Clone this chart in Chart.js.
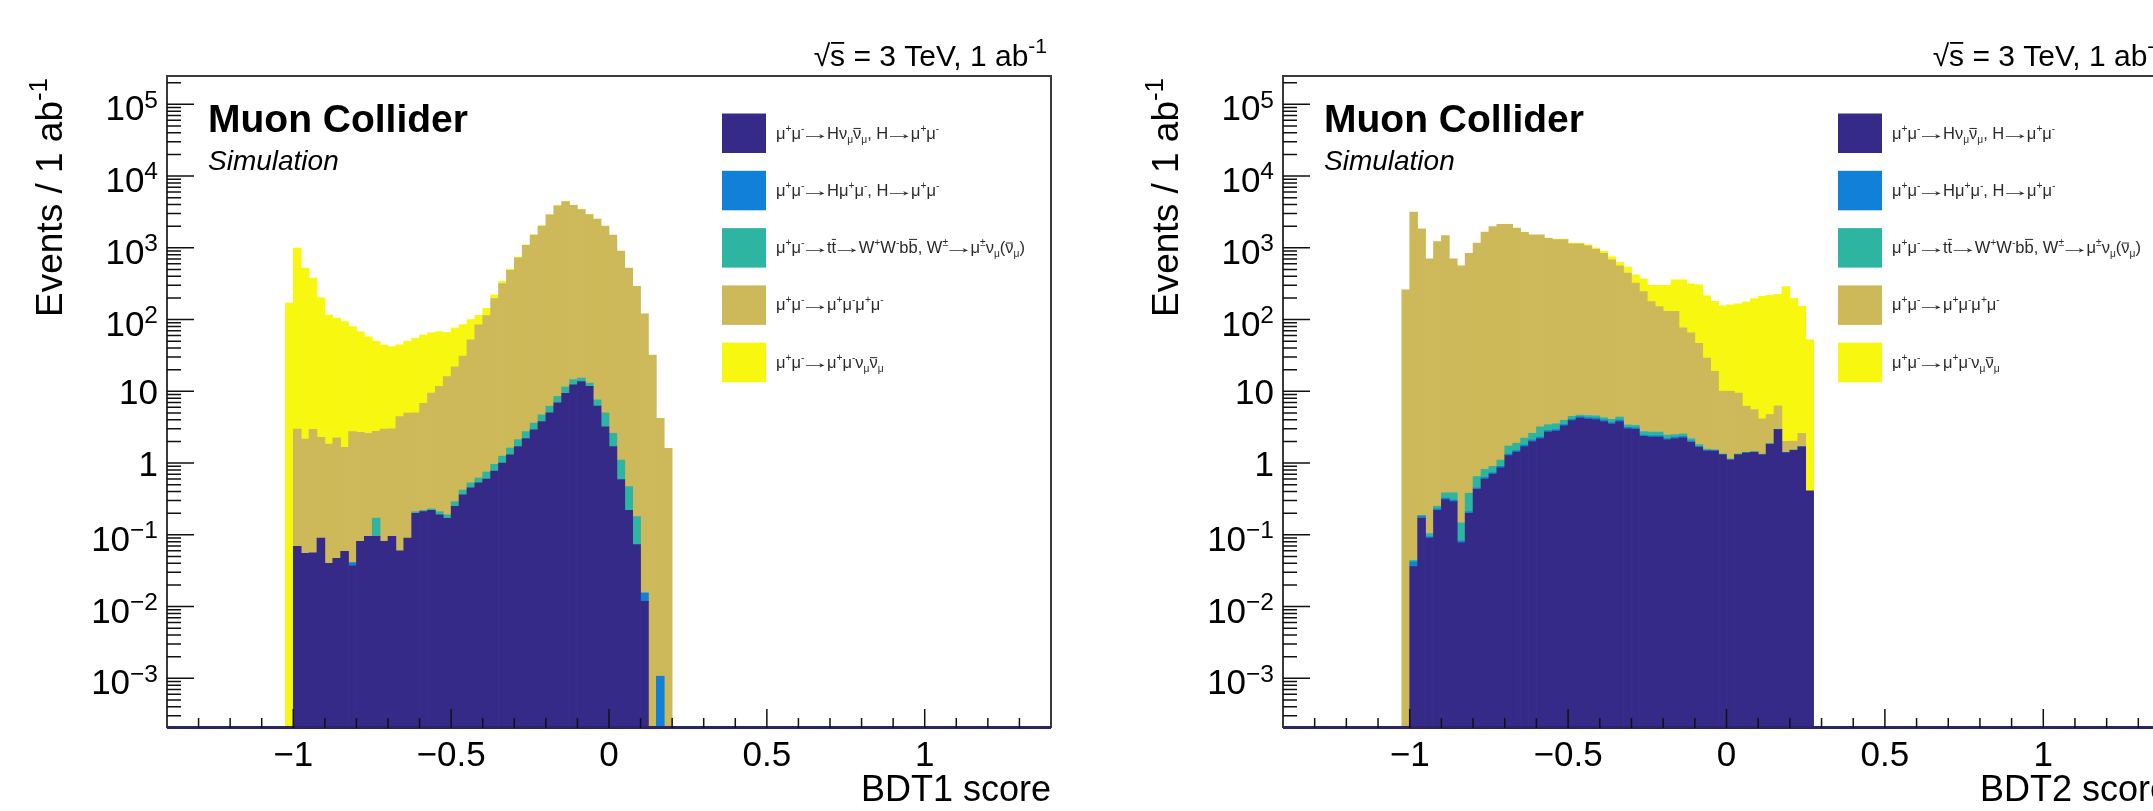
<!DOCTYPE html>
<html>
<head>
<meta charset="utf-8">
<script src="https://cdn.jsdelivr.net/npm/chart.js@4.4.1/dist/chart.umd.min.js"></script>
<style>
  html, body { margin: 0; padding: 0; background: #fff; }
  body { width: 2153px; height: 811px; overflow: hidden; position: relative; }
  .panel { position: absolute; top: 0; width: 1100px; height: 811px; }
</style>
</head>
<body>
<div class="panel" style="left:0"><canvas id="bdt1" width="1100" height="811"></canvas></div>
<div class="panel" style="left:1100px"><canvas id="bdt2" width="1100" height="811"></canvas></div>
<script>
// bin centres of the BDT score histograms (bin width 0.025)
const binCenters = [
  -1.0125, -0.9875, -0.9625, -0.9375, -0.9125, -0.8875, -0.8625, -0.8375, -0.8125, -0.7875,
  -0.7625, -0.7375, -0.7125, -0.6875, -0.6625, -0.6375, -0.6125, -0.5875, -0.5625, -0.5375,
  -0.5125, -0.4875, -0.4625, -0.4375, -0.4125, -0.3875, -0.3625, -0.3375, -0.3125, -0.2875,
  -0.2625, -0.2375, -0.2125, -0.1875, -0.1625, -0.1375, -0.1125, -0.0875, -0.0625, -0.0375,
  -0.0125, 0.0125, 0.0375, 0.0625, 0.0875, 0.1125, 0.1375, 0.1625, 0.1875, 0.2125,
  0.2375, 0.2625
];

// BDT1 score, events / 1 ab^-1 per process
const bdt1Hvv = [
  0, 0.069, 0.055, 0.056, 0.09, 0.04, 0.047, 0.059, 0.037, 0.081,
  0.095, 0.095, 0.081, 0.095, 0.06, 0.09, 0.2, 0.21, 0.22, 0.19,
  0.17, 0.25, 0.36, 0.45, 0.53, 0.6, 0.77, 1.0, 1.3, 1.7,
  2.2, 2.9, 3.8, 5.0, 6.9, 9.4, 12.3, 13.7, 11.7, 6.2,
  3.2, 1.7, 0.59, 0.22, 0.073, 0.0118, 0, 0, 0
];
const bdt1Hmm = [
  0, 0, 0, 0, 0, 0, 0, 0, 0.004, 0,
  0, 0, 0, 0, 0, 0, 0, 0, 0, 0,
  0, 0, 0, 0, 0, 0, 0, 0, 0, 0,
  0, 0, 0, 0, 0, 0, 0, 0, 0, 0,
  0, 0, 0, 0, 0, 0.0037, 0, 0.00107, 0
];
const bdt1Tt = [
  0, 0, 0, 0, 0, 0, 0, 0, 0, 0,
  0, 0.076, 0, 0, 0, 0, 0.01, 0.01, 0.01, 0.02,
  0.02, 0.04, 0.06, 0.08, 0.09, 0.15, 0.19, 0.25, 0.32, 0.42,
  0.55, 0.7, 0.9, 1.2, 1.6, 2.1, 2.3, 1.6, 1.3, 1.4,
  1.8, 0.9, 0.51, 0.25, 0.107, 0, 0, 0, 0
];
const bdt1Mumu4 = [
  0, 2.9, 2.1, 2.9, 2.2, 1.8, 2.2, 1.6, 2.7, 2.6,
  2.5, 2.6, 2.9, 2.9, 4.4, 4.9, 4.8, 6.6, 9.2, 11.5,
  15.8, 21.7, 30.6, 51.5, 84, 113, 195, 317, 482, 721,
  1082, 1502, 2005, 2866, 3837, 4406, 3900, 3400, 2900, 2500,
  2000, 1500, 900, 520, 290, 120, 32, 4.2, 1.6
];
const bdt1Mumununu = [
  170, 990, 518, 377, 198, 114, 103, 92, 77, 65,
  55, 47, 41, 39, 40, 45, 50, 54, 56, 56,
  50, 54, 54, 48, 30, 30, 25, 22, 20, 18,
  15, 12, 10, 8, 5, 3, 2, 1, 0.5, 0.3,
  0, 0, 0, 0, 0, 0, 0, 0, 0
];

// BDT2 score, events / 1 ab^-1 per process
const bdt2Hvv = [
  0, 0.036, 0.17, 0.09, 0.22, 0.31, 0.29, 0.077, 0.2, 0.43,
  0.6, 0.7, 0.86, 1.27, 1.42, 1.7, 2.0, 2.2, 2.7, 2.8,
  3.3, 3.9, 4.25, 4.1, 4.05, 3.8, 3.5, 3.8, 3.0, 2.95,
  2.35, 2.3, 2.3, 2.1, 2.2, 2.25, 1.95, 1.65, 1.47, 1.47,
  1.3, 1.1, 1.3, 1.38, 1.41, 1.3, 1.83, 2.93, 1.39, 1.5,
  1.68, 0.41
];
const bdt2Hmm = [
  0, 0.006, 0.012, 0.004, 0.01, 0.015, 0.015, 0.005, 0.01, 0.02,
  0.03, 0.03, 0.04, 0.06, 0.07, 0.08, 0.1, 0.1, 0.13, 0.13,
  0.15, 0.18, 0.2, 0.2, 0.2, 0.18, 0.17, 0.18, 0.15, 0.15,
  0.1, 0.1, 0.1, 0.1, 0.1, 0.1, 0.08, 0.06, 0.04, 0.03,
  0.02, 0.02, 0.02, 0.02, 0.02, 0.02, 0.02, 0.02, 0.02, 0.02,
  0.01, 0
];
const bdt2Tt = [
  0, 0.002, 0.005, 0.01, 0.02, 0.06, 0.08, 0.065, 0.17, 0.2,
  0.19, 0.17, 0.2, 0.4, 0.4, 0.45, 0.5, 0.9, 0.6, 0.6,
  0.5, 0.4, 0.2, 0.3, 0.3, 0.3, 0.4, 0.4, 0.25, 0.25,
  0.3, 0.3, 0.3, 0.25, 0.2, 0.2, 0.15, 0.1, 0.05, 0.03,
  0.02, 0.02, 0.02, 0.01, 0.01, 0.01, 0.01, 0.01, 0, 0,
  0, 0
];
const bdt2Mumu4 = [
  260, 3140, 1840, 700, 1225, 1480, 700, 560, 840, 1160,
  1650, 1980, 2130, 2130, 1880, 1635, 1517, 1510, 1350, 1300,
  1300, 1135, 1130, 1060, 950, 830, 676, 557, 440, 318,
  243, 176, 149, 128, 128, 74, 63, 45, 27.5, 17.5,
  8.7, 8.9, 8.1, 4.8, 4.1, 2.8, 2.9, 3.3, 0.6, 0.5,
  0.9, 0
];
const bdt2Mumununu = [
  0, 0, 0, 0, 0, 0, 0, 0, 0, 0,
  0, 0, 0, 0, 0, 0, 0, 0, 12, 15,
  20, 25, 30, 40, 40, 58, 70, 70, 97, 100,
  124, 121, 148, 170, 228, 282, 250, 258, 186, 161,
  145, 150, 156, 169, 190, 206, 213, 219, 287, 195,
  150, 51.6
];

const processLabels = [
  'μ^{+}μ^{-}→Hν_{μ}#bar{ν}_{μ}, H→μ^{+}μ^{-}',
  'μ^{+}μ^{-}→Hμ^{+}μ^{-}, H→μ^{+}μ^{-}',
  'μ^{+}μ^{-}→t#bar{t}→W^{+}W^{-}b#bar{b}, W^{±}→μ^{±}ν_{μ}(#bar{ν}_{μ})',
  'μ^{+}μ^{-}→μ^{+}μ^{-}μ^{+}μ^{-}',
  'μ^{+}μ^{-}→μ^{+}μ^{-}ν_{μ}#bar{ν}_{μ}'
];
const processColors = ['#352a87', '#1180d8', '#2eb5a2', '#cdb959', '#f8f710'];

const xTickValues = [-1, -0.5, 0, 0.5, 1];
const xTickLabels = ['−1', '−0.5', '0', '0.5', '1'];
const yTickValues = [1e-3, 1e-2, 1e-1, 1, 10, 1e2, 1e3, 1e4, 1e5];
const yTickLabels = ['10^{−3}', '10^{−2}', '10^{−1}', '1', '10', '10^{2}', '10^{3}', '10^{4}', '10^{5}'];

const FONT = '"Liberation Sans", Arial, Helvetica, sans-serif';

function fontStr(size, o) {
  return (o.style || 'normal') + ' ' + (o.weight || 'normal') + ' ' + size + 'px ' + FONT;
}

// tiny TLatex-like parser: ^{..} superscript, _{..} subscript, #bar{..} overline
function parseRich(str) {
  const segs = [];
  let buf = '';
  let i = 0;
  const flush = () => { if (buf) { segs.push({t: buf, lvl: 0}); buf = ''; } };
  while (i < str.length) {
    const c = str[i];
    if ((c === '^' || c === '_') && str[i + 1] === '{') {
      flush();
      const end = str.indexOf('}', i);
      segs.push({t: str.slice(i + 2, end), lvl: c === '^' ? 1 : -1});
      i = end + 1;
    } else if (str.startsWith('#bar{', i)) {
      flush();
      const end = str.indexOf('}', i);
      segs.push({t: str.slice(i + 5, end), lvl: 0, bar: true});
      i = end + 1;
    } else {
      buf += c;
      i++;
    }
  }
  flush();
  return segs;
}

function drawRich(ctx, str, x, y, size, o = {}) {
  const supK = o.supK || 0.65, rise = o.rise || 0.42, drop = o.drop || 0.22;
  const items = [];
  parseRich(str).forEach(s => {
    const sz = s.lvl === 0 ? size : size * supK;
    const dy = s.lvl === 1 ? -size * rise : (s.lvl === -1 ? size * drop : 0);
    s.t.split(/(→)/).forEach(part => {
      if (!part) return;
      ctx.font = fontStr(sz, o);
      const m = ctx.measureText(part);
      const it = {part, sz, dy, bar: s.bar, w: m.width};
      if (part === '→') {
        // long, tight ROOT-style arrow: stretch the glyph ink to a fixed length
        const ink = m.actualBoundingBoxRight + m.actualBoundingBoxLeft;
        it.arrow = true;
        it.k = (o.arrowLen || 1.3) * sz / ink;
        it.inkLeft = m.actualBoundingBoxLeft;
        it.pad = 0.06 * sz;
        it.w = (o.arrowLen || 1.3) * sz + 2 * it.pad;
      }
      items.push(it);
    });
  });
  const total = items.reduce((a, it) => a + it.w, 0);
  let cx = o.align === 'right' ? x - total : (o.align === 'center' ? x - total / 2 : x);
  ctx.fillStyle = o.color || '#000';
  ctx.textAlign = 'left';
  ctx.textBaseline = 'alphabetic';
  items.forEach(it => {
    ctx.font = fontStr(it.sz, o);
    if (it.arrow) {
      ctx.save();
      ctx.translate(cx + it.pad + it.inkLeft * it.k, y + it.dy);
      ctx.scale(it.k, 1);
      ctx.fillText(it.part, 0, 0);
      ctx.restore();
    } else {
      ctx.fillText(it.part, cx, y + it.dy);
    }
    if (it.bar) {
      const k = o.barRise || (/[bdfhklt]/.test(it.part) ? 0.86 : 0.64);
      ctx.fillRect(cx + it.w * 0.06, y + it.dy - it.sz * k, it.w * 0.88, Math.max(1, it.sz * 0.06));
    }
    cx += it.w;
  });
  return total;
}

function rootFrame(xTitle) {
  return {
    id: 'rootFrame',
    afterDatasetsDraw(chart) {
      const ctx = chart.ctx;
      const {left, right, top, bottom} = chart.chartArea;
      const xs = chart.scales.x, ys = chart.scales.y;
      ctx.save();

      // frame
      ctx.strokeStyle = '#3a3a3a';
      ctx.lineWidth = 2;
      ctx.beginPath();
      ctx.moveTo(left, bottom);
      ctx.lineTo(left, top);
      ctx.lineTo(right, top);
      ctx.lineTo(right, bottom);
      ctx.stroke();
      ctx.strokeStyle = '#2a2468';
      ctx.lineWidth = 3;
      ctx.beginPath();
      ctx.moveTo(left, bottom - 0.5);
      ctx.lineTo(right, bottom - 0.5);
      ctx.stroke();

      // x ticks, pointing inwards
      ctx.strokeStyle = '#111';
      ctx.lineWidth = 1.5;
      ctx.beginPath();
      for (let k = -13; k <= 13; k++) {
        const px = xs.getPixelForValue(k / 10);
        const len = k % 5 === 0 ? 19 : 10;
        ctx.moveTo(px, bottom);
        ctx.lineTo(px, bottom - len);
      }
      // y ticks (log)
      for (let d = -4; d <= 5; d++) {
        for (let m = 1; m <= 9; m++) {
          const v = m * Math.pow(10, d);
          if (v <= ys.min || v >= ys.max) continue;
          const py = ys.getPixelForValue(v);
          const len = m === 1 ? 27 : 14;
          ctx.moveTo(left, py);
          ctx.lineTo(left + len, py);
        }
      }
      ctx.stroke();

      // tick labels
      xTickValues.forEach((v, i) => {
        drawRich(ctx, xTickLabels[i], xs.getPixelForValue(v), bottom + 38, 35, {align: 'center'});
      });
      yTickValues.forEach((v, i) => {
        const lab = yTickLabels[i];
        const py = ys.getPixelForValue(v) + (lab.includes('^') ? 16 : 13);
        drawRich(ctx, lab, left - 9, py, 35, {align: 'right', supK: 0.7, rise: 0.36});
      });

      // axis titles
      drawRich(ctx, xTitle, right, bottom + 73, 36, {align: 'right'});
      ctx.save();
      ctx.translate(left - 105, top + 2);
      ctx.rotate(-Math.PI / 2);
      drawRich(ctx, 'Events / 1 ab^{-1}', 0, 0, 37, {align: 'right', supK: 0.7, rise: 0.4});
      ctx.restore();

      // energy / luminosity label
      drawRich(ctx, '√#bar{s} = 3 TeV, 1 ab^{-1}', right - 4, top - 10, 30, {align: 'right', supK: 0.7, rise: 0.42, barRise: 0.8});

      // experiment label
      drawRich(ctx, 'Muon Collider', left + 41, 132, 39, {weight: 'bold'});
      drawRich(ctx, 'Simulation', left + 41, 170, 28, {style: 'italic'});

      // legend
      processLabels.forEach((lab, k) => {
        const y0 = 113.5 + 57.3 * k;
        ctx.fillStyle = processColors[k];
        ctx.fillRect(left + 555, y0, 44, 39.5);
        drawRich(ctx, lab, left + 609, y0 + 25, 16.5, {color: '#2a2a2a', supK: 0.62, rise: 0.42, drop: 0.25, arrowLen: 1.25});
      });

      ctx.restore();
    }
  };
}

function makePanel(id, series, xTitle, pad) {
  const n = series[0].length;
  return new Chart(document.getElementById(id), {
    type: 'bar',
    data: {
      labels: binCenters.slice(0, n),
      datasets: series.map((d, k) => ({
        label: processLabels[k],
        data: d,
        backgroundColor: processColors[k],
        borderWidth: 0,
        barPercentage: 1,
        categoryPercentage: 1
      }))
    },
    options: {
      responsive: false,
      animation: false,
      devicePixelRatio: 1,
      layout: {padding: pad},
      plugins: {legend: {display: false}, tooltip: {enabled: false}},
      scales: {
        x: {type: 'linear', min: -1.4, max: 1.4, offset: false, stacked: true, display: false},
        y: {type: 'logarithmic', min: 2.03e-4, max: 2.48e5, stacked: true, display: false}
      }
    },
    plugins: [rootFrame(xTitle)]
  });
}

makePanel('bdt1', [bdt1Hvv, bdt1Hmm, bdt1Tt, bdt1Mumu4, bdt1Mumununu], 'BDT1 score',
  {left: 167, right: 49, top: 76, bottom: 83});
makePanel('bdt2', [bdt2Hvv, bdt2Hmm, bdt2Tt, bdt2Mumu4, bdt2Mumununu], 'BDT2 score',
  {left: 183, right: 30, top: 76, bottom: 83});
</script>
</body>
</html>
